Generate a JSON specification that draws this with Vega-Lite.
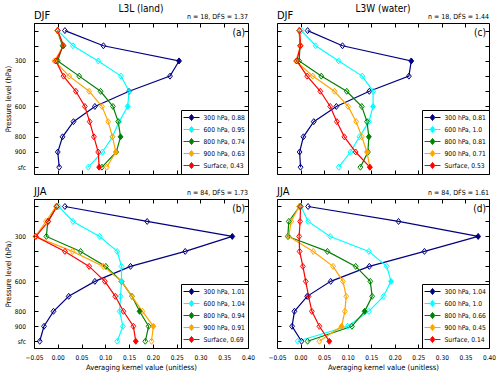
{
"$schema":"https://vega.github.io/schema/vega-lite/v6.json",
"padding":{"left":3,"top":3,"right":0,"bottom":0},
"data":{"values":[
{"p":"a","s":"300","l":1,"v":0.015},{"p":"a","s":"300","l":2,"v":0.096},{"p":"a","s":"300","l":3,"v":0.255},{"p":"a","s":"300","l":4,"v":0.236},{"p":"a","s":"300","l":5,"v":0.150},{"p":"a","s":"300","l":6,"v":0.078},{"p":"a","s":"300","l":7,"v":0.033},{"p":"a","s":"300","l":8,"v":0.010},{"p":"a","s":"300","l":9,"v":0.000},{"p":"a","s":"300","l":10,"v":0.003},
{"p":"a","s":"600","l":1,"v":0.000},{"p":"a","s":"600","l":2,"v":0.032},{"p":"a","s":"600","l":3,"v":0.085},{"p":"a","s":"600","l":4,"v":0.133},{"p":"a","s":"600","l":5,"v":0.150},{"p":"a","s":"600","l":6,"v":0.147},{"p":"a","s":"600","l":7,"v":0.129},{"p":"a","s":"600","l":8,"v":0.115},{"p":"a","s":"600","l":9,"v":0.094},{"p":"a","s":"600","l":10,"v":0.064},
{"p":"a","s":"800","l":1,"v":-0.001},{"p":"a","s":"800","l":2,"v":0.010},{"p":"a","s":"800","l":3,"v":0.000},{"p":"a","s":"800","l":4,"v":0.045},{"p":"a","s":"800","l":5,"v":0.090},{"p":"a","s":"800","l":6,"v":0.116},{"p":"a","s":"800","l":7,"v":0.127},{"p":"a","s":"800","l":8,"v":0.132},{"p":"a","s":"800","l":9,"v":0.123},{"p":"a","s":"800","l":10,"v":0.093},
{"p":"a","s":"900","l":1,"v":-0.001},{"p":"a","s":"900","l":2,"v":0.012},{"p":"a","s":"900","l":3,"v":-0.007},{"p":"a","s":"900","l":4,"v":0.024},{"p":"a","s":"900","l":5,"v":0.066},{"p":"a","s":"900","l":6,"v":0.093},{"p":"a","s":"900","l":7,"v":0.106},{"p":"a","s":"900","l":8,"v":0.115},{"p":"a","s":"900","l":9,"v":0.122},{"p":"a","s":"900","l":10,"v":0.103},
{"p":"a","s":"sfc","l":1,"v":0.000},{"p":"a","s":"sfc","l":2,"v":0.012},{"p":"a","s":"sfc","l":3,"v":-0.004},{"p":"a","s":"sfc","l":4,"v":0.012},{"p":"a","s":"sfc","l":5,"v":0.038},{"p":"a","s":"sfc","l":6,"v":0.057},{"p":"a","s":"sfc","l":7,"v":0.067},{"p":"a","s":"sfc","l":8,"v":0.076},{"p":"a","s":"sfc","l":9,"v":0.085},{"p":"a","s":"sfc","l":10,"v":0.087},
{"p":"c","s":"300","l":1,"v":0.015},{"p":"c","s":"300","l":2,"v":0.089},{"p":"c","s":"300","l":3,"v":0.235},{"p":"c","s":"300","l":4,"v":0.230},{"p":"c","s":"300","l":5,"v":0.146},{"p":"c","s":"300","l":6,"v":0.076},{"p":"c","s":"300","l":7,"v":0.028},{"p":"c","s":"300","l":8,"v":0.006},{"p":"c","s":"300","l":9,"v":-0.002},{"p":"c","s":"300","l":10,"v":0.000},
{"p":"c","s":"600","l":1,"v":0.002},{"p":"c","s":"600","l":2,"v":0.032},{"p":"c","s":"600","l":3,"v":0.081},{"p":"c","s":"600","l":4,"v":0.131},{"p":"c","s":"600","l":5,"v":0.154},{"p":"c","s":"600","l":6,"v":0.154},{"p":"c","s":"600","l":7,"v":0.145},{"p":"c","s":"600","l":8,"v":0.125},{"p":"c","s":"600","l":9,"v":0.106},{"p":"c","s":"600","l":10,"v":0.081},
{"p":"c","s":"800","l":1,"v":-0.003},{"p":"c","s":"800","l":2,"v":-0.001},{"p":"c","s":"800","l":3,"v":-0.003},{"p":"c","s":"800","l":4,"v":0.044},{"p":"c","s":"800","l":5,"v":0.098},{"p":"c","s":"800","l":6,"v":0.130},{"p":"c","s":"800","l":7,"v":0.141},{"p":"c","s":"800","l":8,"v":0.145},{"p":"c","s":"800","l":9,"v":0.143},{"p":"c","s":"800","l":10,"v":0.127},
{"p":"c","s":"900","l":1,"v":-0.003},{"p":"c","s":"900","l":2,"v":0.000},{"p":"c","s":"900","l":3,"v":-0.010},{"p":"c","s":"900","l":4,"v":0.026},{"p":"c","s":"900","l":5,"v":0.072},{"p":"c","s":"900","l":6,"v":0.101},{"p":"c","s":"900","l":7,"v":0.118},{"p":"c","s":"900","l":8,"v":0.130},{"p":"c","s":"900","l":9,"v":0.141},{"p":"c","s":"900","l":10,"v":0.147},
{"p":"c","s":"sfc","l":1,"v":-0.002},{"p":"c","s":"sfc","l":2,"v":0.000},{"p":"c","s":"sfc","l":3,"v":-0.008},{"p":"c","s":"sfc","l":4,"v":0.014},{"p":"c","s":"sfc","l":5,"v":0.042},{"p":"c","s":"sfc","l":6,"v":0.063},{"p":"c","s":"sfc","l":7,"v":0.077},{"p":"c","s":"sfc","l":8,"v":0.093},{"p":"c","s":"sfc","l":9,"v":0.117},{"p":"c","s":"sfc","l":10,"v":0.147},
{"p":"b","s":"300","l":1,"v":0.015},{"p":"b","s":"300","l":2,"v":0.188},{"p":"b","s":"300","l":3,"v":0.367},{"p":"b","s":"300","l":4,"v":0.268},{"p":"b","s":"300","l":5,"v":0.153},{"p":"b","s":"300","l":6,"v":0.078},{"p":"b","s":"300","l":7,"v":0.023},{"p":"b","s":"300","l":8,"v":-0.009},{"p":"b","s":"300","l":9,"v":-0.029},{"p":"b","s":"300","l":10,"v":-0.038},
{"p":"b","s":"600","l":1,"v":0.002},{"p":"b","s":"600","l":2,"v":0.032},{"p":"b","s":"600","l":3,"v":0.088},{"p":"b","s":"600","l":4,"v":0.125},{"p":"b","s":"600","l":5,"v":0.134},{"p":"b","s":"600","l":6,"v":0.134},{"p":"b","s":"600","l":7,"v":0.132},{"p":"b","s":"600","l":8,"v":0.130},{"p":"b","s":"600","l":9,"v":0.137},{"p":"b","s":"600","l":10,"v":0.125},
{"p":"b","s":"800","l":1,"v":-0.002},{"p":"b","s":"800","l":2,"v":-0.021},{"p":"b","s":"800","l":3,"v":-0.024},{"p":"b","s":"800","l":4,"v":0.048},{"p":"b","s":"800","l":5,"v":0.101},{"p":"b","s":"800","l":6,"v":0.134},{"p":"b","s":"800","l":7,"v":0.156},{"p":"b","s":"800","l":8,"v":0.172},{"p":"b","s":"800","l":9,"v":0.191},{"p":"b","s":"800","l":10,"v":0.184},
{"p":"b","s":"900","l":1,"v":-0.004},{"p":"b","s":"900","l":2,"v":-0.025},{"p":"b","s":"900","l":3,"v":-0.047},{"p":"b","s":"900","l":4,"v":0.031},{"p":"b","s":"900","l":5,"v":0.096},{"p":"b","s":"900","l":6,"v":0.134},{"p":"b","s":"900","l":7,"v":0.156},{"p":"b","s":"900","l":8,"v":0.178},{"p":"b","s":"900","l":9,"v":0.201},{"p":"b","s":"900","l":10,"v":0.197},
{"p":"b","s":"sfc","l":1,"v":-0.002},{"p":"b","s":"sfc","l":2,"v":-0.020},{"p":"b","s":"sfc","l":3,"v":-0.046},{"p":"b","s":"sfc","l":4,"v":0.015},{"p":"b","s":"sfc","l":5,"v":0.066},{"p":"b","s":"sfc","l":6,"v":0.099},{"p":"b","s":"sfc","l":7,"v":0.121},{"p":"b","s":"sfc","l":8,"v":0.138},{"p":"b","s":"sfc","l":9,"v":0.159},{"p":"b","s":"sfc","l":10,"v":0.164},
{"p":"d","s":"300","l":1,"v":0.016},{"p":"d","s":"300","l":2,"v":0.208},{"p":"d","s":"300","l":3,"v":0.377},{"p":"d","s":"300","l":4,"v":0.263},{"p":"d","s":"300","l":5,"v":0.146},{"p":"d","s":"300","l":6,"v":0.064},{"p":"d","s":"300","l":7,"v":0.014},{"p":"d","s":"300","l":8,"v":-0.013},{"p":"d","s":"300","l":9,"v":-0.018},{"p":"d","s":"300","l":10,"v":0.002},
{"p":"d","s":"600","l":1,"v":0.001},{"p":"d","s":"600","l":2,"v":0.016},{"p":"d","s":"600","l":3,"v":0.063},{"p":"d","s":"600","l":4,"v":0.145},{"p":"d","s":"600","l":5,"v":0.183},{"p":"d","s":"600","l":6,"v":0.192},{"p":"d","s":"600","l":7,"v":0.176},{"p":"d","s":"600","l":8,"v":0.145},{"p":"d","s":"600","l":9,"v":0.100},{"p":"d","s":"600","l":10,"v":-0.006},
{"p":"d","s":"800","l":1,"v":-0.002},{"p":"d","s":"800","l":2,"v":-0.025},{"p":"d","s":"800","l":3,"v":-0.027},{"p":"d","s":"800","l":4,"v":0.057},{"p":"d","s":"800","l":5,"v":0.117},{"p":"d","s":"800","l":6,"v":0.148},{"p":"d","s":"800","l":7,"v":0.152},{"p":"d","s":"800","l":8,"v":0.136},{"p":"d","s":"800","l":9,"v":0.109},{"p":"d","s":"800","l":10,"v":0.015},
{"p":"d","s":"900","l":1,"v":-0.003},{"p":"d","s":"900","l":2,"v":-0.020},{"p":"d","s":"900","l":3,"v":-0.025},{"p":"d","s":"900","l":4,"v":0.027},{"p":"d","s":"900","l":5,"v":0.069},{"p":"d","s":"900","l":6,"v":0.090},{"p":"d","s":"900","l":7,"v":0.097},{"p":"d","s":"900","l":8,"v":0.094},{"p":"d","s":"900","l":9,"v":0.087},{"p":"d","s":"900","l":10,"v":0.040},
{"p":"d","s":"sfc","l":1,"v":0.000},{"p":"d","s":"sfc","l":2,"v":-0.001},{"p":"d","s":"sfc","l":3,"v":-0.003},{"p":"d","s":"sfc","l":4,"v":-0.002},{"p":"d","s":"sfc","l":5,"v":0.005},{"p":"d","s":"sfc","l":6,"v":0.011},{"p":"d","s":"sfc","l":7,"v":0.017},{"p":"d","s":"sfc","l":8,"v":0.024},{"p":"d","s":"sfc","l":9,"v":0.040},{"p":"d","s":"sfc","l":10,"v":0.061}
]},
"config":{
"font":"DejaVu Sans Condensed, DejaVu Sans",
"view":{"stroke":"black","strokeWidth":1},
"axis":{"domain":false,"grid":false,"ticks":true,"tickSize":-4,"tickColor":"black","tickWidth":1,"labelFontSize":6.5,"labelColor":"black","titleFontSize":7.5,"titleFontWeight":"normal","titleColor":"black","labelOverlap":false,"labelFlush":false},
"legend":{"title":null,"orient":"bottom-right","offset":0,"strokeColor":"black","fillColor":"white","padding":3,"cornerRadius":0,"labelFontSize":6.7,"labelColor":"black","symbolSize":64,"symbolStrokeWidth":1,"symbolOffset":3,"labelOffset":7.5,"rowPadding":1},
"text":{"color":"black"}
},
"columns":2,
"spacing":{"row":25,"column":29},
"bounds":"flush",
"resolve":{"scale":{"color":"independent","fill":"independent","stroke":"independent"},"legend":{"color":"independent"}},
"concat":[
{"width":214,"height":151,
"transform":[{"filter":"datum.p=='a'"}],
"layer":[
{"mark":{"type":"line","strokeWidth":1.2},
"encoding":{
"x":{"field":"v","type":"quantitative","scale":{"domain":[-0.05,0.4],"nice":false,"zero":false},"axis":{"orient":"bottom","values":[-0.05,0,0.05,0.1,0.15,0.2,0.25,0.3,0.35,0.4],"labels":false,"title":null}},
"y":{"field":"l","type":"quantitative","scale":{"domain":[0.5,10.45],"reverse":true,"nice":false,"zero":false},"axis":{"orient":"left","values":[1,2,3,4,5,6,7,8,9,10],"labelExpr":"datum.value==3?'300':datum.value==6?'600':datum.value==8?'800':datum.value==9?'900':datum.value==10?'sfc':''","labelPadding":12.5,"title":"Pressure level (hPa)","titlePadding":2}},
"color":{"field":"s","type":"nominal","scale":{"domain":["300","600","800","900","sfc"],"range":["navy","cyan","green","orange","red"]},"legend":{"symbolType":"M-2,0L-0.6,0M0.6,0L2,0M0,-0.75L0.6,0L0,0.75L-0.6,0Z","encode":{"symbols":{"update":{"fill":{"value":"white"},"shape":{"value":"M-2,0L-0.6,0M0.6,0L2,0M0,-0.75L0.6,0L0,0.75L-0.6,0Z"},"strokeWidth":{"value":1}}}},"labelExpr":"datum.label=='300'?'300 hPa, 0.88':datum.label=='600'?'600 hPa, 0.95':datum.label=='800'?'800 hPa, 0.74':datum.label=='900'?'900 hPa, 0.63':'Surface, 0.43'"}},
"order":{"field":"l","type":"quantitative"}}},
{"mark":{"type":"point","shape":"M0,-1L0.8,0L0,1L-0.8,0Z","filled":false,"size":36,"strokeWidth":1,"opacity":1},
"encoding":{"x":{"field":"v","type":"quantitative","axis":null},"y":{"field":"l","type":"quantitative","axis":null},"stroke":{"field":"s","type":"nominal","scale":{"domain":["300","600","800","900","sfc"],"range":["navy","cyan","green","orange","red"]},"legend":null}}},
{"transform":[{"filter":"(datum.s=='300'&&datum.l==3)||(datum.s=='600'&&datum.l==6)||(datum.s=='800'&&datum.l==8)||(datum.s=='900'&&datum.l==9)||(datum.s=='sfc'&&datum.l==10)"}],
"mark":{"type":"point","shape":"M0,-1L0.8,0L0,1L-0.8,0Z","filled":true,"size":36,"opacity":1},
"encoding":{"x":{"field":"v","type":"quantitative","axis":{"orient":"top","values":[-0.05,0,0.05,0.1,0.15,0.2,0.25,0.3,0.35,0.4],"labels":false,"title":null}},"y":{"field":"l","type":"quantitative","axis":{"orient":"right","values":[1,2,3,4,5,6,7,8,9,10],"labels":false,"title":null}},"fill":{"field":"s","type":"nominal","scale":{"domain":["300","600","800","900","sfc"],"range":["navy","cyan","green","orange","red"]},"legend":null}}},
{"data":{"values":[{"p":"a"}]},"mark":{"type":"text","text":"L3L (land)","fontSize":10,"align":"center","baseline":"alphabetic","dy":-11},"encoding":{"x":{"datum":0.175,"type":"quantitative","axis":null},"y":{"datum":0.5,"type":"quantitative","axis":null}}},
{"data":{"values":[{"p":"a"}]},"mark":{"type":"text","text":"DJF","fontSize":11,"align":"left","baseline":"alphabetic","dy":-4},"encoding":{"x":{"datum":-0.05,"type":"quantitative","axis":null},"y":{"datum":0.5,"type":"quantitative","axis":null}}},
{"data":{"values":[{"p":"a"}]},"mark":{"type":"text","text":"n = 18, DF\u0302S = 1.37","fontSize":7,"align":"right","baseline":"alphabetic","dy":-4},"encoding":{"x":{"datum":0.4,"type":"quantitative","axis":null},"y":{"datum":0.5,"type":"quantitative","axis":null}}},
{"data":{"values":[{"p":"a"}]},"mark":{"type":"text","text":"(a)","fontSize":10,"align":"right","baseline":"top","dx":-3,"dy":5},"encoding":{"x":{"datum":0.4,"type":"quantitative","axis":null},"y":{"datum":0.5,"type":"quantitative","axis":null}}}
],
"resolve":{"axis":{"x":"independent","y":"independent"}}},
{"width":212,"height":151,
"transform":[{"filter":"datum.p=='c'"}],
"layer":[
{"mark":{"type":"line","strokeWidth":1.2},
"encoding":{
"x":{"field":"v","type":"quantitative","scale":{"domain":[-0.05,0.4],"nice":false,"zero":false},"axis":{"orient":"bottom","values":[-0.05,0,0.05,0.1,0.15,0.2,0.25,0.3,0.35,0.4],"labels":false,"title":null}},
"y":{"field":"l","type":"quantitative","scale":{"domain":[0.5,10.45],"reverse":true,"nice":false,"zero":false},"axis":{"orient":"left","values":[1,2,3,4,5,6,7,8,9,10],"labels":false,"title":null}},
"color":{"field":"s","type":"nominal","scale":{"domain":["300","600","800","900","sfc"],"range":["navy","cyan","green","orange","red"]},"legend":{"symbolType":"M-2,0L-0.6,0M0.6,0L2,0M0,-0.75L0.6,0L0,0.75L-0.6,0Z","encode":{"symbols":{"update":{"fill":{"value":"white"},"shape":{"value":"M-2,0L-0.6,0M0.6,0L2,0M0,-0.75L0.6,0L0,0.75L-0.6,0Z"},"strokeWidth":{"value":1}}}},"labelExpr":"datum.label=='300'?'300 hPa, 0.81':datum.label=='600'?'600 hPa, 1.0':datum.label=='800'?'800 hPa, 0.81':datum.label=='900'?'900 hPa, 0.71':'Surface, 0.53'"}},
"order":{"field":"l","type":"quantitative"}}},
{"mark":{"type":"point","shape":"M0,-1L0.8,0L0,1L-0.8,0Z","filled":false,"size":36,"strokeWidth":1,"opacity":1},
"encoding":{"x":{"field":"v","type":"quantitative","axis":null},"y":{"field":"l","type":"quantitative","axis":null},"stroke":{"field":"s","type":"nominal","scale":{"domain":["300","600","800","900","sfc"],"range":["navy","cyan","green","orange","red"]},"legend":null}}},
{"transform":[{"filter":"(datum.s=='300'&&datum.l==3)||(datum.s=='600'&&datum.l==6)||(datum.s=='800'&&datum.l==8)||(datum.s=='900'&&datum.l==9)||(datum.s=='sfc'&&datum.l==10)"}],
"mark":{"type":"point","shape":"M0,-1L0.8,0L0,1L-0.8,0Z","filled":true,"size":36,"opacity":1},
"encoding":{"x":{"field":"v","type":"quantitative","axis":{"orient":"top","values":[-0.05,0,0.05,0.1,0.15,0.2,0.25,0.3,0.35,0.4],"labels":false,"title":null}},"y":{"field":"l","type":"quantitative","axis":{"orient":"right","values":[1,2,3,4,5,6,7,8,9,10],"labels":false,"title":null}},"fill":{"field":"s","type":"nominal","scale":{"domain":["300","600","800","900","sfc"],"range":["navy","cyan","green","orange","red"]},"legend":null}}},
{"data":{"values":[{"p":"c"}]},"mark":{"type":"text","text":"L3W (water)","fontSize":10,"align":"center","baseline":"alphabetic","dy":-11},"encoding":{"x":{"datum":0.175,"type":"quantitative","axis":null},"y":{"datum":0.5,"type":"quantitative","axis":null}}},
{"data":{"values":[{"p":"c"}]},"mark":{"type":"text","text":"DJF","fontSize":11,"align":"left","baseline":"alphabetic","dy":-4},"encoding":{"x":{"datum":-0.05,"type":"quantitative","axis":null},"y":{"datum":0.5,"type":"quantitative","axis":null}}},
{"data":{"values":[{"p":"c"}]},"mark":{"type":"text","text":"n = 18, DF\u0302S = 1.44","fontSize":7,"align":"right","baseline":"alphabetic","dy":-4},"encoding":{"x":{"datum":0.4,"type":"quantitative","axis":null},"y":{"datum":0.5,"type":"quantitative","axis":null}}},
{"data":{"values":[{"p":"c"}]},"mark":{"type":"text","text":"(c)","fontSize":10,"align":"right","baseline":"top","dx":-3,"dy":5},"encoding":{"x":{"datum":0.4,"type":"quantitative","axis":null},"y":{"datum":0.5,"type":"quantitative","axis":null}}}
],
"resolve":{"axis":{"x":"independent","y":"independent"}}},
{"width":214,"height":149,
"transform":[{"filter":"datum.p=='b'"}],
"layer":[
{"mark":{"type":"line","strokeWidth":1.2},
"encoding":{
"x":{"field":"v","type":"quantitative","scale":{"domain":[-0.05,0.4],"nice":false,"zero":false},"axis":{"orient":"bottom","values":[-0.05,0,0.05,0.1,0.15,0.2,0.25,0.3,0.35,0.4],"format":".2f","labelPadding":10,"title":"Averaging kernel value (unitless)","titlePadding":3}},
"y":{"field":"l","type":"quantitative","scale":{"domain":[0.5,10.45],"reverse":true,"nice":false,"zero":false},"axis":{"orient":"left","values":[1,2,3,4,5,6,7,8,9,10],"labelExpr":"datum.value==3?'300':datum.value==6?'600':datum.value==8?'800':datum.value==9?'900':datum.value==10?'sfc':''","labelPadding":12.5,"title":"Pressure level (hPa)","titlePadding":2}},
"color":{"field":"s","type":"nominal","scale":{"domain":["300","600","800","900","sfc"],"range":["navy","cyan","green","orange","red"]},"legend":{"symbolType":"M-2,0L-0.6,0M0.6,0L2,0M0,-0.75L0.6,0L0,0.75L-0.6,0Z","encode":{"symbols":{"update":{"fill":{"value":"white"},"shape":{"value":"M-2,0L-0.6,0M0.6,0L2,0M0,-0.75L0.6,0L0,0.75L-0.6,0Z"},"strokeWidth":{"value":1}}}},"labelExpr":"datum.label=='300'?'300 hPa, 1.01':datum.label=='600'?'600 hPa, 1.04':datum.label=='800'?'800 hPa, 0.94':datum.label=='900'?'900 hPa, 0.91':'Surface, 0.69'"}},
"order":{"field":"l","type":"quantitative"}}},
{"mark":{"type":"point","shape":"M0,-1L0.8,0L0,1L-0.8,0Z","filled":false,"size":36,"strokeWidth":1,"opacity":1},
"encoding":{"x":{"field":"v","type":"quantitative","axis":null},"y":{"field":"l","type":"quantitative","axis":null},"stroke":{"field":"s","type":"nominal","scale":{"domain":["300","600","800","900","sfc"],"range":["navy","cyan","green","orange","red"]},"legend":null}}},
{"transform":[{"filter":"(datum.s=='300'&&datum.l==3)||(datum.s=='600'&&datum.l==6)||(datum.s=='800'&&datum.l==8)||(datum.s=='900'&&datum.l==9)||(datum.s=='sfc'&&datum.l==10)"}],
"mark":{"type":"point","shape":"M0,-1L0.8,0L0,1L-0.8,0Z","filled":true,"size":36,"opacity":1},
"encoding":{"x":{"field":"v","type":"quantitative","axis":{"orient":"top","values":[-0.05,0,0.05,0.1,0.15,0.2,0.25,0.3,0.35,0.4],"labels":false,"title":null}},"y":{"field":"l","type":"quantitative","axis":{"orient":"right","values":[1,2,3,4,5,6,7,8,9,10],"labels":false,"title":null}},"fill":{"field":"s","type":"nominal","scale":{"domain":["300","600","800","900","sfc"],"range":["navy","cyan","green","orange","red"]},"legend":null}}},
{"data":{"values":[{"p":"b"}]},"mark":{"type":"text","text":"JJA","fontSize":11,"align":"left","baseline":"alphabetic","dy":-4},"encoding":{"x":{"datum":-0.05,"type":"quantitative","axis":null},"y":{"datum":0.5,"type":"quantitative","axis":null}}},
{"data":{"values":[{"p":"b"}]},"mark":{"type":"text","text":"n = 84, DF\u0302S = 1.73","fontSize":7,"align":"right","baseline":"alphabetic","dy":-4},"encoding":{"x":{"datum":0.4,"type":"quantitative","axis":null},"y":{"datum":0.5,"type":"quantitative","axis":null}}},
{"data":{"values":[{"p":"b"}]},"mark":{"type":"text","text":"(b)","fontSize":10,"align":"right","baseline":"top","dx":-3,"dy":5},"encoding":{"x":{"datum":0.4,"type":"quantitative","axis":null},"y":{"datum":0.5,"type":"quantitative","axis":null}}}
],
"resolve":{"axis":{"x":"independent","y":"independent"}}},
{"width":212,"height":149,
"transform":[{"filter":"datum.p=='d'"}],
"layer":[
{"mark":{"type":"line","strokeWidth":1.2},
"encoding":{
"x":{"field":"v","type":"quantitative","scale":{"domain":[-0.05,0.4],"nice":false,"zero":false},"axis":{"orient":"bottom","values":[-0.05,0,0.05,0.1,0.15,0.2,0.25,0.3,0.35,0.4],"format":".2f","labelPadding":10,"title":"Averaging kernel value (unitless)","titlePadding":3}},
"y":{"field":"l","type":"quantitative","scale":{"domain":[0.5,10.45],"reverse":true,"nice":false,"zero":false},"axis":{"orient":"left","values":[1,2,3,4,5,6,7,8,9,10],"labels":false,"title":null}},
"color":{"field":"s","type":"nominal","scale":{"domain":["300","600","800","900","sfc"],"range":["navy","cyan","green","orange","red"]},"legend":{"symbolType":"M-2,0L-0.6,0M0.6,0L2,0M0,-0.75L0.6,0L0,0.75L-0.6,0Z","encode":{"symbols":{"update":{"fill":{"value":"white"},"shape":{"value":"M-2,0L-0.6,0M0.6,0L2,0M0,-0.75L0.6,0L0,0.75L-0.6,0Z"},"strokeWidth":{"value":1}}}},"labelExpr":"datum.label=='300'?'300 hPa, 1.04':datum.label=='600'?'600 hPa, 1.0':datum.label=='800'?'800 hPa, 0.66':datum.label=='900'?'900 hPa, 0.45':'Surface, 0.14'"}},
"order":{"field":"l","type":"quantitative"}}},
{"mark":{"type":"point","shape":"M0,-1L0.8,0L0,1L-0.8,0Z","filled":false,"size":36,"strokeWidth":1,"opacity":1},
"encoding":{"x":{"field":"v","type":"quantitative","axis":null},"y":{"field":"l","type":"quantitative","axis":null},"stroke":{"field":"s","type":"nominal","scale":{"domain":["300","600","800","900","sfc"],"range":["navy","cyan","green","orange","red"]},"legend":null}}},
{"transform":[{"filter":"(datum.s=='300'&&datum.l==3)||(datum.s=='600'&&datum.l==6)||(datum.s=='800'&&datum.l==8)||(datum.s=='900'&&datum.l==9)||(datum.s=='sfc'&&datum.l==10)"}],
"mark":{"type":"point","shape":"M0,-1L0.8,0L0,1L-0.8,0Z","filled":true,"size":36,"opacity":1},
"encoding":{"x":{"field":"v","type":"quantitative","axis":{"orient":"top","values":[-0.05,0,0.05,0.1,0.15,0.2,0.25,0.3,0.35,0.4],"labels":false,"title":null}},"y":{"field":"l","type":"quantitative","axis":{"orient":"right","values":[1,2,3,4,5,6,7,8,9,10],"labels":false,"title":null}},"fill":{"field":"s","type":"nominal","scale":{"domain":["300","600","800","900","sfc"],"range":["navy","cyan","green","orange","red"]},"legend":null}}},
{"data":{"values":[{"p":"d"}]},"mark":{"type":"text","text":"JJA","fontSize":11,"align":"left","baseline":"alphabetic","dy":-4},"encoding":{"x":{"datum":-0.05,"type":"quantitative","axis":null},"y":{"datum":0.5,"type":"quantitative","axis":null}}},
{"data":{"values":[{"p":"d"}]},"mark":{"type":"text","text":"n = 84, DF\u0302S = 1.61","fontSize":7,"align":"right","baseline":"alphabetic","dy":-4},"encoding":{"x":{"datum":0.4,"type":"quantitative","axis":null},"y":{"datum":0.5,"type":"quantitative","axis":null}}},
{"data":{"values":[{"p":"d"}]},"mark":{"type":"text","text":"(d)","fontSize":10,"align":"right","baseline":"top","dx":-3,"dy":5},"encoding":{"x":{"datum":0.4,"type":"quantitative","axis":null},"y":{"datum":0.5,"type":"quantitative","axis":null}}}
],
"resolve":{"axis":{"x":"independent","y":"independent"}}}
]
}
